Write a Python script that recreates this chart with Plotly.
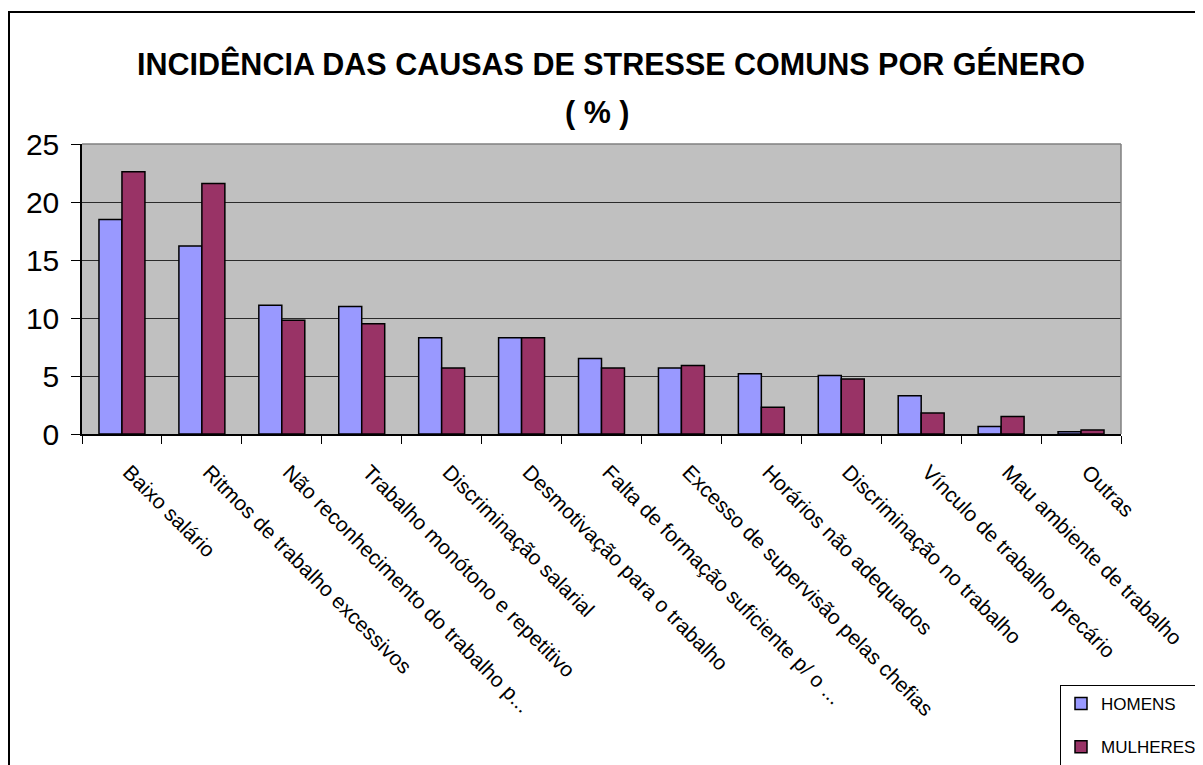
"""
Incidência das causas de stresse comuns por género - grouped bar chart.
"""

import plotly.graph_objects as go

# ============================================================================
# Data
# ============================================================================

categories = [
    "Baixo salário",
    "Ritmos de trabalho excessivos",
    "Não reconhecimento do trabalho p...",
    "Trabalho monótono e repetitivo",
    "Discriminação salarial",
    "Desmotivação para o trabalho",
    "Falta de formação suficiente p/ o ...",
    "Excesso de supervisão pelas chefias",
    "Horários não adequados",
    "Discriminação no trabalho",
    "Vínculo de trabalho precário",
    "Mau ambiente de trabalho",
    "Outras",
]
homens = [18.5, 16.2, 11.1, 11.0, 8.3, 8.3, 6.5, 5.7, 5.2, 5.05, 3.3, 0.65, 0.2]
mulheres = [22.6, 21.6, 9.8, 9.5, 5.7, 8.3, 5.7, 5.9, 2.3, 4.75, 1.8, 1.5, 0.35]
y_ticks = [0, 5, 10, 15, 20, 25]

# ============================================================================
# Layout geometry (screen pixels; the page body adds an 8px offset)
# ============================================================================

OFFSET = 8
W, H = 1203 - OFFSET, 765 - OFFSET
PLOT_L, PLOT_R, PLOT_T, PLOT_B = 82, 1121, 144, 434   # in screen pixels

FONT = "Liberation Sans, Arial, sans-serif"


def px_x(x):
    """Screen pixel x -> paper x"""
    return (x - PLOT_L) / (PLOT_R - PLOT_L)


def px_y(y):
    """Screen pixel y (from top) -> paper y"""
    return (PLOT_B - y) / (PLOT_B - PLOT_T)


fig = go.Figure()

fig.add_trace(go.Bar(
    x=categories, y=homens, name="HOMENS", legendgroup="h",
    marker=dict(color="#9999FF", line=dict(color="black", width=1.5)),
))
fig.add_trace(go.Bar(
    x=categories, y=mulheres, name="MULHERES", legendgroup="m",
    marker=dict(color="#993366", line=dict(color="black", width=1.5)),
))

shapes = [
    # outer chart border
    dict(type="rect", xref="paper", yref="paper",
         x0=px_x(9), x1=px_x(1203 + 20), y0=px_y(12), y1=px_y(765 + 20),
         line=dict(color="black", width=2), layer="below"),
    # grey top and right edges of the plot area
    dict(type="line", xref="paper", yref="paper", x0=0, x1=1, y0=1, y1=1,
         line=dict(color="#808080", width=1.5)),
    dict(type="line", xref="paper", yref="paper", x0=1, x1=1, y0=0, y1=1,
         line=dict(color="#808080", width=1.5)),
]

# title in two lines, placed separately to match the line spacing
annotations = [
    dict(text="<b>INCIDÊNCIA DAS CAUSAS DE STRESSE COMUNS POR GÉNERO</b>",
         xref="paper", yref="paper", x=px_x(611), y=px_y(63),
         xanchor="center", yanchor="middle", showarrow=False,
         font=dict(family=FONT, size=30.5, color="black")),
    dict(text="<b>( % )</b>",
         xref="paper", yref="paper", x=px_x(597), y=px_y(112),
         xanchor="center", yanchor="middle", showarrow=False,
         font=dict(family=FONT, size=30.5, color="black")),
]

fig.update_layout(
    width=W, height=H,
    margin=dict(l=PLOT_L - OFFSET, r=1203 - PLOT_R, t=PLOT_T - OFFSET,
                b=765 - PLOT_B, autoexpand=False),
    paper_bgcolor="white",
    plot_bgcolor="#C0C0C0",
    barmode="group",
    bargap=0.425,
    bargroupgap=0,
    xaxis=dict(
        type="category",
        tickangle=45,
        tickson="boundaries",
        ticks="outside", ticklen=8, tickcolor="black", tickwidth=1,
        ticklabelstandoff=16,
        ticklabelshift=7,
        showline=True, linecolor="black", linewidth=1.5,
        showgrid=False,
        tickfont=dict(family=FONT, size=21, color="black"),
    ),
    yaxis=dict(
        range=[0, 25],
        tickvals=y_ticks,
        ticks="outside", ticklen=9, tickcolor="black", tickwidth=1,
        ticklabelstandoff=6,
        showline=True, linecolor="black", linewidth=1.5,
        showgrid=True, gridcolor="#2a2a2a", gridwidth=1,
        zeroline=False,
        tickfont=dict(family=FONT, size=30, color="black"),
    ),
    legend=dict(
        x=px_x(1060), xanchor="left", xref="paper",
        y=px_y(685), yanchor="top", yref="paper",
        bgcolor="white", bordercolor="black", borderwidth=1,
        font=dict(family=FONT, size=17, color="black"),
        tracegroupgap=18,
        itemwidth=30,
    ),
    showlegend=True,
    shapes=shapes,
    annotations=annotations,
)

fig.write_html("out.html")
